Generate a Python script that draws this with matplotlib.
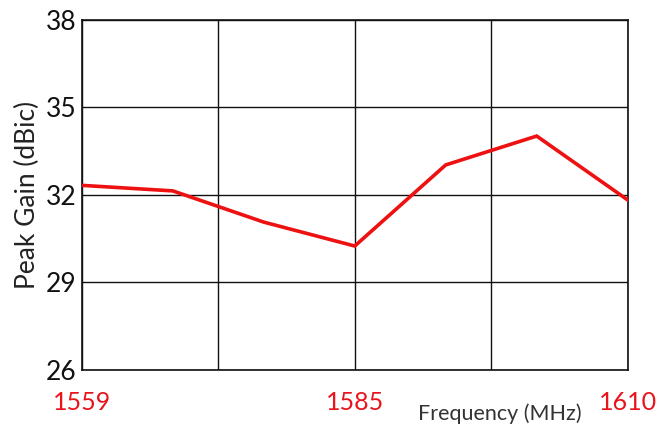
import matplotlib
matplotlib.use("Agg")
import matplotlib.pyplot as plt

plt.rcParams['font.family'] = ['Lato', 'DejaVu Sans']

# frequency (MHz) and measured peak gain (dBic)
freq = [1559, 1567.5, 1576, 1584.5, 1593, 1601.5, 1610]
gain = [32.33, 32.14, 31.07, 30.25, 33.03, 34.02, 31.83]

x_grid = [1559, 1571.75, 1584.5, 1597.25, 1610]
x_labels = ['1559', '', '1585', '', '1610']
y_ticks = [26, 29, 32, 35, 38]

fig = plt.figure(figsize=(6.6, 4.29), dpi=100)
ax = fig.add_axes([0.124, 0.1375, 0.827, 0.816])

ax.plot(freq, gain, color='#ee1111', lw=2.6, solid_joinstyle='miter', zorder=3)

ax.set_xlim(1559, 1610)
ax.set_ylim(26, 38)
ax.set_xticks(x_grid)
ax.set_xticklabels(x_labels, color='#e8141c', fontsize=18)
ax.set_yticks(y_ticks)
ax.set_yticklabels([str(v) for v in y_ticks], fontsize=19, color='#111111')
ax.tick_params(axis='both', length=0)
ax.tick_params(axis='x', pad=15)
ax.tick_params(axis='y', pad=4)
ax.grid(True, color='#111111', lw=1.0)
ax.set_axisbelow(True)
for s in ax.spines.values():
    s.set_color('#111111')
    s.set_linewidth(1.2)

ax.set_ylabel('Peak Gain (dBic)', fontsize=19, color='#222222', labelpad=4)
fig.text(0.758, 0.035, 'Frequency (MHz)', fontsize=15.5, color='#333333', ha='center', va='center')

fig.savefig('out.png', dpi=100)
